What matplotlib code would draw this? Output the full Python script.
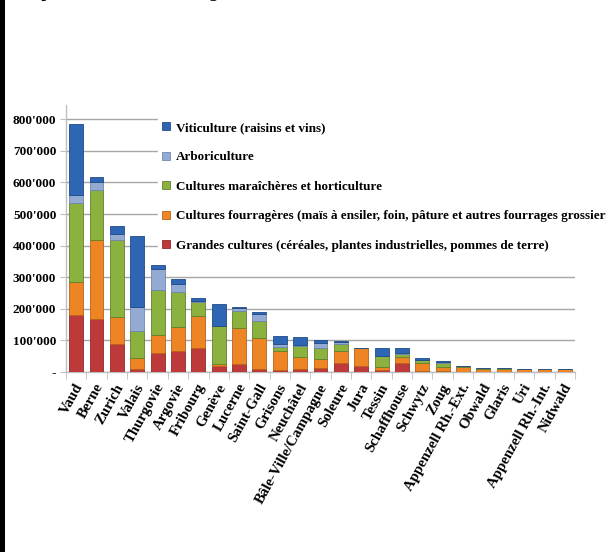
import matplotlib
matplotlib.use("Agg")
import matplotlib.pyplot as plt
from matplotlib.patches import Patch, Rectangle
from matplotlib.ticker import FixedLocator
from matplotlib.transforms import ScaledTranslation
import numpy as np

cantons = ["Vaud", "Berne", "Zurich", "Valais", "Thurgovie", "Argovie", "Fribourg",
           "Genève", "Lucerne", "Saint-Gall", "Grisons", "Neuchâtel",
           "Bâle-Ville/Campagne", "Soleure", "Jura", "Tessin", "Schaffhouse",
           "Schwytz", "Zoug", "Appenzell Rh.-Ext.", "Obwald", "Glaris", "Uri",
           "Appenzell Rh.-Int.", "Nidwald"]

# values in thousands (stacked from bottom)
grandes = [181, 169, 90, 11, 59, 68, 76, 19, 25, 9, 6, 9, 12, 28, 20, 6, 30, 2, 4, 1, 1, 1, 1, 1, 1]
fourrag = [104, 250, 85, 32, 57, 73, 102, 6, 113, 100, 61, 37, 29, 39, 55, 11, 16, 28, 13, 14, 10, 9, 9, 8, 7]
maraich = [251, 158, 244, 87, 142, 112, 45, 119, 54, 53, 11, 36, 36, 21, 1, 34, 12, 8, 11, 5, 2, 2, 1, 1, 0]
arbor   = [25, 23, 18, 75, 68, 26, 3, 2, 12, 21, 10, 2, 16, 8, 0, 0, 1, 1, 5, 0, 0, 0, 0, 0, 0]
viti    = [225, 16, 26, 225, 13, 16, 8, 70, 3, 8, 25, 28, 8, 1, 1, 26, 18, 4, 1, 0, 0, 0, 0, 0, 0]

series_labels = ["Grandes cultures (céréales, plantes industrielles, pommes de terre)",
                 "Cultures fourragères (maïs à ensiler, foin, pâture et autres fourrages grossiers)",
                 "Cultures maraîchères et horticulture",
                 "Arboriculture",
                 "Viticulture (raisins et vins)"]
colors = ["#BE3A3A", "#EE8524", "#8BB23F", "#93ABD3", "#2F66B3"]
edges = ["#8E2A2A", "#B8621A", "#62802C", "#6E86AE", "#1F4A86"]

yticks = [0, 100, 200, 300, 400, 500, 600, 700, 800]
ytick_labels = ["-", "100'000", "200'000", "300'000", "400'000", "500'000", "600'000", "700'000", "800'000"]

serif = ["Liberation Serif", "DejaVu Serif"]
plt.rcParams["font.family"] = serif

fig = plt.figure(figsize=(6.06, 5.52), dpi=100)
ax = fig.add_axes([66/606, 1-372/552, (575-66)/606, (372-105)/552])

x = np.arange(len(cantons))
data = [np.array(grandes), np.array(fourrag), np.array(maraich), np.array(arbor), np.array(viti)]
bottom = np.zeros(len(cantons))
for vals, c, e in zip(data, colors, edges):
    ax.bar(x, vals * 1000, bottom=bottom * 1000, width=0.68, color=c,
           edgecolor=e, linewidth=0.6, zorder=3)
    bottom += vals

ax.set_xlim(-0.5, len(cantons) - 0.5)
ax.set_ylim(0, 845000)
ax.yaxis.set_major_locator(FixedLocator([v * 1000 for v in yticks]))
ax.set_yticklabels(ytick_labels, fontsize=9.5, fontweight="bold")
ax.grid(axis="y", color="#A6A6A6", linewidth=1.0, zorder=0)
ax.set_axisbelow(True)
for s in ["top", "right"]:
    ax.spines[s].set_visible(False)
for s in ["left", "bottom"]:
    ax.spines[s].set_color("#BFBFBF")
    ax.spines[s].set_linewidth(1.0)
ax.tick_params(axis="y", length=4, color="#BFBFBF", pad=3)

ax.set_xticks(x)
ax.set_xticklabels(cantons, rotation=61, ha="right", va="center",
                   rotation_mode="anchor", fontsize=10.7, fontweight="bold")
ax.tick_params(axis="x", which="major", length=0, pad=9)
shift = ScaledTranslation(4/100, 0, fig.dpi_scale_trans)
for lab in ax.get_xticklabels():
    lab.set_transform(lab.get_transform() + shift)
ax.set_xticks(np.arange(-0.5, len(cantons) + 0.5, 1), minor=True)
ax.tick_params(axis="x", which="minor", length=5, color="#BFBFBF")

handles = [Patch(facecolor=colors[i], edgecolor=edges[i], linewidth=0.6) for i in range(4, -1, -1)]
labels = [series_labels[i] for i in range(4, -1, -1)]
leg = fig.legend(handles, labels, loc="upper left",
                 bbox_to_anchor=(158/606, 1-118/552),
                 frameon=True, fancybox=False, edgecolor="white", facecolor="white",
                 framealpha=1.0, prop={"family": serif, "weight": "bold", "size": 9.45},
                 handlelength=0.6, handleheight=0.6, handletextpad=0.45,
                 labelspacing=1.33, borderpad=0.3, borderaxespad=0)
leg.set_zorder(5)

# left border line of the page
fig.patches.append(Rectangle((0, 0), 5/606, 1, transform=fig.transFigure,
                             facecolor="black", edgecolor="none", zorder=10))
# title, cut off at the top of the picture
fig.text(22/606, 1 + 3/552, "Répartition de la surface agricole", fontsize=12,
         fontweight="bold", va="baseline", ha="left", family=serif)

fig.savefig("out.png", dpi=100, facecolor="white")
